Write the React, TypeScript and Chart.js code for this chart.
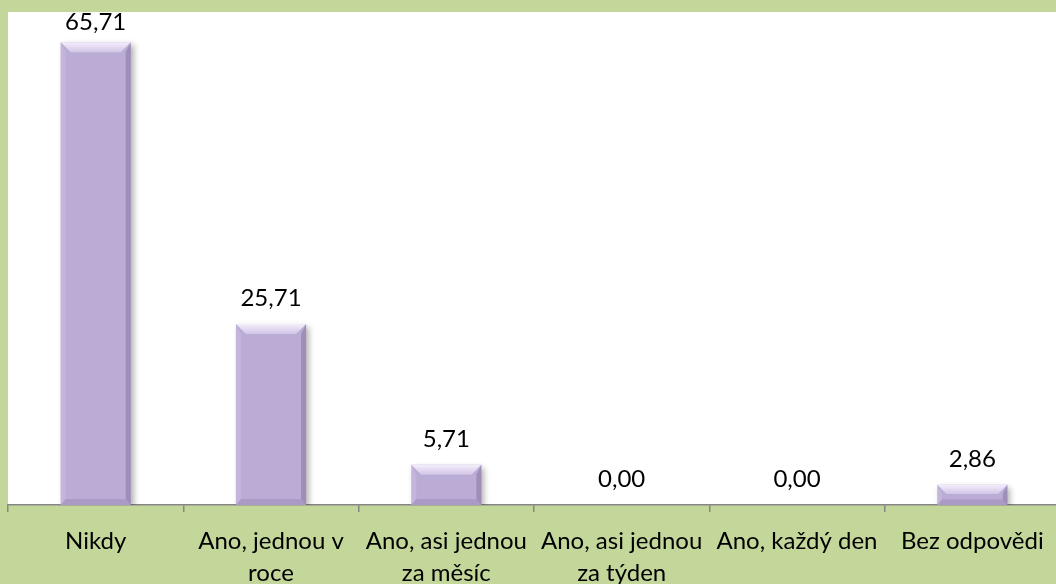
import React, { useEffect, useRef } from "react";
import { Chart, registerables } from "chart.js";

Chart.register(...registerables);

const categories: string[][] = [
  ["Nikdy"],
  ["Ano, jednou v", "roce"],
  ["Ano, asi jednou", "za měsíc"],
  ["Ano, asi jednou", "za týden"],
  ["Ano, každý den"],
  ["Bez odpovědi"],
];
const values: number[] = [65.71, 25.71, 5.71, 0.0, 0.0, 2.86];
const yMin = 0;
const yMax = 70;

const GREEN = "#c4d79b";
const BAR = "#bbacd5";
const AXIS = "#868686";
const FONT = "Lato";

const backgroundPlugin = {
  id: "bgPlugin",
  beforeDraw(chart: any) {
    const { ctx, chartArea } = chart;
    ctx.save();
    ctx.fillStyle = GREEN;
    ctx.fillRect(0, 0, chart.width, chart.height);
    ctx.fillStyle = "#ffffff";
    ctx.fillRect(chartArea.left, chartArea.top, chartArea.right - chartArea.left, chartArea.bottom - chartArea.top);
    ctx.restore();
  },
  beforeDatasetsDraw(chart: any) {
    const ctx = chart.ctx;
    ctx.save();
    ctx.shadowColor = "rgba(0,0,0,0.3)";
    ctx.shadowBlur = 6;
    ctx.shadowOffsetX = 3;
    ctx.shadowOffsetY = 3;
  },
  afterDatasetsDraw(chart: any) {
    const ctx = chart.ctx;
    ctx.restore();
    const meta = chart.getDatasetMeta(0);
    ctx.save();
    meta.data.forEach((bar: any, i: number) => {
      const v = values[i];
      const l = bar.x - bar.width / 2;
      const r = bar.x + bar.width / 2;
      const t = bar.y;
      const bot = bar.base;
      const h = bot - t;
      if (h > 1) {
        const b = Math.min(10, h / 2.2);
        const g = ctx.createLinearGradient(0, t, 0, t + b);
        g.addColorStop(0, "#f4eefc");
        g.addColorStop(1, "#d2c5e6");
        ctx.fillStyle = g;
        ctx.beginPath();
        ctx.moveTo(l, t);
        ctx.lineTo(r, t);
        ctx.lineTo(r - b, t + b);
        ctx.lineTo(l + b, t + b);
        ctx.closePath();
        ctx.fill();
        ctx.fillStyle = "rgba(255,255,255,0.12)";
        ctx.beginPath();
        ctx.moveTo(l, t);
        ctx.lineTo(l + b * 0.5, t + b);
        ctx.lineTo(l + b * 0.5, bot - b * 0.6);
        ctx.lineTo(l, bot);
        ctx.closePath();
        ctx.fill();
        ctx.fillStyle = "rgba(70,50,100,0.25)";
        ctx.beginPath();
        ctx.moveTo(r, t);
        ctx.lineTo(r - b * 0.5, t + b);
        ctx.lineTo(r - b * 0.5, bot - b * 0.6);
        ctx.lineTo(r, bot);
        ctx.closePath();
        ctx.fill();
        ctx.fillStyle = "rgba(70,50,100,0.14)";
        ctx.beginPath();
        ctx.moveTo(l, bot);
        ctx.lineTo(r, bot);
        ctx.lineTo(r - b * 0.5, bot - b * 0.6);
        ctx.lineTo(l + b * 0.5, bot - b * 0.6);
        ctx.closePath();
        ctx.fill();
      }
      ctx.fillStyle = "#000000";
      ctx.font = `24px ${FONT}`;
      ctx.textAlign = "center";
      ctx.textBaseline = "middle";
      const y = Math.max(chart.chartArea.top + 10, t - 26);
      ctx.fillText(v.toFixed(2).replace(".", ","), bar.x, y);
    });
    ctx.restore();
  },
};

export default function App() {
  const ref = useRef<HTMLCanvasElement | null>(null);
  useEffect(() => {
    document.body.style.margin = "0";
    document.body.style.overflow = "hidden";
    const canvas = ref.current!;
    const chart = new Chart(canvas, {
      type: "bar",
      data: {
        labels: categories,
        datasets: [
          {
            data: values,
            backgroundColor: BAR,
            borderWidth: 0,
            barPercentage: 0.4,
            categoryPercentage: 1,
          },
        ],
      },
      options: {
        animation: false,
        responsive: false,
        devicePixelRatio: 1,
        layout: { padding: { left: 8, top: 12, right: 2, bottom: 0 } },
        plugins: { legend: { display: false }, tooltip: { enabled: false } },
        scales: {
          x: {
            grid: {
              display: true,
              drawOnChartArea: false,
              offset: true,
              tickLength: 7,
              color: AXIS,
              lineWidth: 1.5,
            },
            border: { display: true, color: AXIS, width: 1.5 },
            ticks: {
              color: "#000000",
              font: { family: FONT, size: 24, lineHeight: 1.3 },
              padding: 14,
              maxRotation: 0,
              autoSkip: false,
            },
            afterFit: (scale: any) => {
              scale.height = 79;
            },
          },
          y: { display: false, min: yMin, max: yMax },
        },
      },
      plugins: [backgroundPlugin],
    });
    return () => chart.destroy();
  }, []);
  return (
    <div style={{ width: 1056, height: 584, overflow: "hidden", position: "relative" }}>
      <canvas ref={ref} width={1062} height={584} style={{ display: "block", width: 1062, height: 584 }} />
    </div>
  );
}
